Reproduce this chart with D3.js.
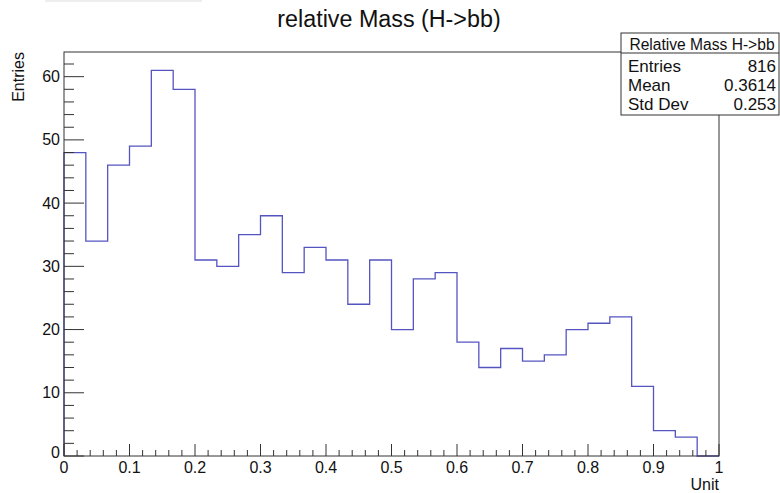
<!DOCTYPE html>
<html><head><meta charset="utf-8">
<script src="https://cdn.jsdelivr.net/npm/d3@7"></script>
<style>body{margin:0;background:#fff}svg{display:block;font-family:"Liberation Sans",Arial,sans-serif}</style>
</head><body><svg id="c" width="780" height="493"></svg>
<script>
const binEdgesStart = 0, binEdgesEnd = 1;
const counts = [48,34,46,49,61,58,31,30,35,38,29,33,31,24,31,20,28,29,18,14,17,15,16,20,21,22,11,4,3,0];
const xTicks = [0,0.1,0.2,0.3,0.4,0.5,0.6,0.7,0.8,0.9,1];
const xTickLabels = ["0","0.1","0.2","0.3","0.4","0.5","0.6","0.7","0.8","0.9","1"];
const yTicks = [0,10,20,30,40,50,60];
const statsRows = [["Entries","816"],["Mean","0.3614"],["Std Dev","0.253"]];
const title = "relative Mass (H->bb)";
const statsTitle = "Relative Mass H->bb";

const svg = d3.select("#c");
const L=64,R=719,T=52,B=456;
const x = d3.scaleLinear().domain([0,1]).range([L,R]);
const y = d3.scaleLinear().domain([0,63.9]).range([B,T]);
const axisCol="#333";

svg.append("rect").attr("x",45).attr("y",0).attr("width",157).attr("height",2).attr("fill","#eeeeee");

// histogram outline
const n=counts.length, w=(binEdgesEnd-binEdgesStart)/n;
let pts=[[x(0),y(0)]];
counts.forEach((c,i)=>{pts.push([x(i*w),y(c)]);pts.push([x((i+1)*w),y(c)]);});
pts.push([x(1),y(0)]);
svg.append("path").attr("d",d3.line()(pts)).attr("fill","none").attr("stroke","#5555c2").attr("stroke-width",1.3);

// frame
svg.append("rect").attr("x",L).attr("y",T).attr("width",R-L).attr("height",B-T).attr("fill","none").attr("stroke",axisCol).attr("stroke-width",1);

// y ticks
const yg=svg.append("g");
d3.range(0,64,2).forEach(v=>{
  const major=v%10===0;
  yg.append("line").attr("x1",L).attr("x2",L+(major?20:10)).attr("y1",y(v)).attr("y2",y(v)).attr("stroke",axisCol);
});
yTicks.forEach(v=>{
  yg.append("text").attr("x",60).attr("y",y(v)).attr("dy",v===0?"0.1em":"0.35em").attr("text-anchor","end").attr("font-size",16).attr("fill","#111").text(v);
});
// x ticks
d3.range(0,51).forEach(i=>{
  const v=i/50, major=i%5===0;
  svg.append("line").attr("x1",x(v)).attr("x2",x(v)).attr("y1",B).attr("y2",B-(major?12:6)).attr("stroke",axisCol);
});
xTicks.forEach((v,i)=>{
  svg.append("text").attr("x",x(v)).attr("y",B+17).attr("text-anchor","middle").attr("font-size",16).attr("fill","#111").text(xTickLabels[i]);
});

svg.append("text").attr("x",R).attr("y",490).attr("text-anchor","end").attr("font-size",16).attr("fill","#111").text("Unit");
svg.append("text").attr("transform","translate(24,"+T+") rotate(-90)").attr("text-anchor","end").attr("font-size",16).attr("fill","#111").text("Entries");

svg.append("text").attr("x",389).attr("y",27).attr("text-anchor","middle").attr("font-size",23.3).attr("fill","#111").text(title);

// stats box
const sx=621, sy=33, sw=158, sh=82;
svg.append("rect").attr("x",sx).attr("y",sy).attr("width",sw).attr("height",sh).attr("fill","#fff").attr("stroke",axisCol);
svg.append("line").attr("x1",sx).attr("x2",sx+sw).attr("y1",sy+20).attr("y2",sy+20).attr("stroke",axisCol);
svg.append("text").attr("x",sx+sw/2+2).attr("y",sy+17).attr("text-anchor","middle").attr("font-size",15.6).attr("fill","#111").text(statsTitle);
statsRows.forEach((r,i)=>{
  const yy=sy+39+i*19.2;
  svg.append("text").attr("x",sx+7).attr("y",yy).attr("font-size",17).attr("fill","#111").text(r[0]);
  svg.append("text").attr("x",sx+sw-3).attr("y",yy).attr("text-anchor","end").attr("font-size",17).attr("fill","#111").text(r[1]);
});
</script></body></html>
